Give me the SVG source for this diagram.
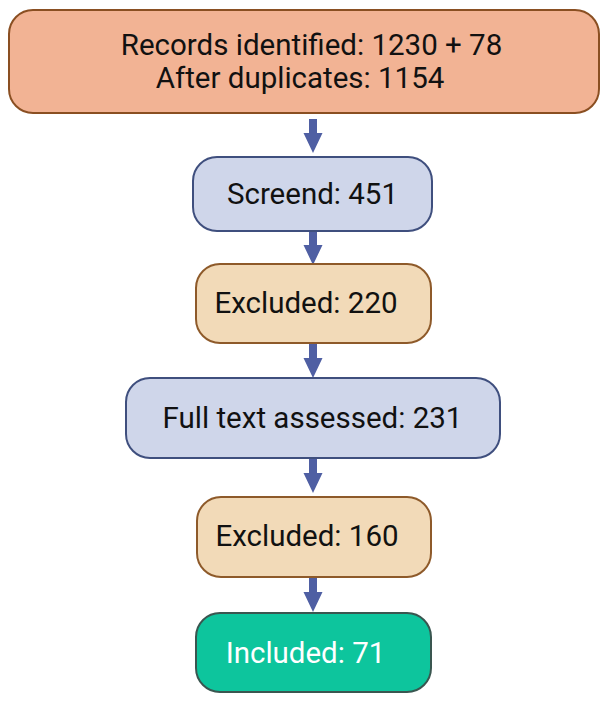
<svg xmlns="http://www.w3.org/2000/svg" width="609" height="705" viewBox="0 0 609 705">
  <style>
    .lbl { font-family: Roboto, "Liberation Sans", sans-serif; font-size: 29.5px; fill: #111; text-anchor: middle; }
    .box { stroke-width: 2; }
    .records { fill: #F2B394; stroke: #8A4F22; }
    .phase { fill: #CFD6EA; stroke: #3F4F7E; }
    .excl { fill: #F2DAB8; stroke: #8E5A2A; }
    .incl { fill: #0DC59D; stroke: #3A5650; }
    .arrow { fill: #4F5FA3; }
  </style>
  <defs>
    <!-- down arrow: shaft 8 wide, head 19 wide -->
    <path id="down" d="M -4 0 H 4 V 14 H 9.5 L 0 34 L -9.5 14 H -4 Z"/>
  </defs>

  <g id="connectors" class="arrow">
    <use href="#down" x="313" y="119"/>
    <use href="#down" x="313" y="231"/>
    <use href="#down" x="313" y="344"/>
    <use href="#down" x="313" y="459"/>
    <use href="#down" x="313" y="578"/>
  </g>

  <g id="records">
    <rect class="box records" x="9" y="10" width="590" height="103" rx="24"/>
    <text class="lbl" x="311.5" y="55">Records identified: 1230 + 78</text>
    <text class="lbl" x="300" y="88">After duplicates: 1154</text>
  </g>

  <g id="screened">
    <rect class="box phase" x="193" y="157" width="239" height="74" rx="24"/>
    <text class="lbl" x="312.5" y="204">Screend: 451</text>
  </g>

  <g id="excluded1">
    <rect class="box excl" x="196" y="264" width="235" height="79" rx="24"/>
    <text class="lbl" x="306" y="313">Excluded: 220</text>
  </g>

  <g id="fulltext">
    <rect class="box phase" x="126" y="378" width="374" height="80" rx="24"/>
    <text class="lbl" x="312.5" y="428">Full text assessed: 231</text>
  </g>

  <g id="excluded2">
    <rect class="box excl" x="197" y="497" width="234" height="80" rx="24"/>
    <text class="lbl" x="307" y="546">Excluded: 160</text>
  </g>

  <g id="included">
    <rect class="box incl" x="196" y="613" width="235" height="79" rx="24"/>
    <text class="lbl" x="305.5" y="663" style="fill:#fff">Included: 71</text>
  </g>
</svg>
